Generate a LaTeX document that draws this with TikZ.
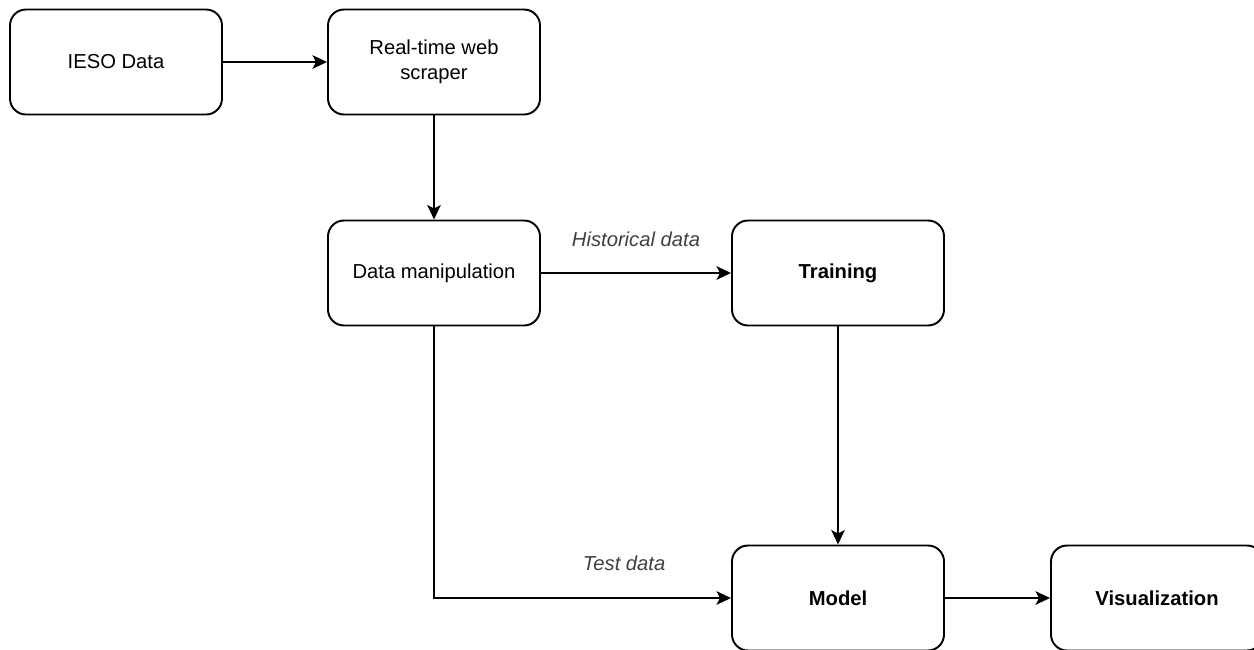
\documentclass[tikz,border=0pt]{standalone}
\usepackage{fontspec}
\setmainfont{Liberation Sans}
\usetikzlibrary{positioning,arrows.meta}

\begin{document}
\begin{tikzpicture}[
  font=\fontsize{11.5}{14}\selectfont,
  box/.style={draw, line width=1.1pt, rounded corners=0.32cm, minimum width=4.24cm, minimum height=2.1cm, inner sep=3pt, align=center},
  arr/.style={-{Stealth[length=2.9mm, width=2.7mm, inset=0.7mm]}, line width=1.1pt},
  lbl/.style={font=\fontsize{11.5}{14}\selectfont\itshape, text=black!75},
]
\useasboundingbox (0,0) rectangle (25.08,-12.98);
% top row
\node[box] (ieso) at (2.32,-1.24) {IESO Data};
\node[box] (scraper) at (8.68,-1.24) {Real-time web\\scraper};
% middle row
\node[box] (manip) at (8.68,-5.46) {Data manipulation};
\node[box, font=\fontsize{11.5}{14}\selectfont\bfseries] (train) at (16.76,-5.46) {Training};
% bottom row
\node[box, font=\fontsize{11.5}{14}\selectfont\bfseries] (model) at (16.76,-11.96) {Model};
\node[box, font=\fontsize{11.5}{14}\selectfont\bfseries] (vis) at (23.14,-11.96) {Visualization};
% arrows
\draw[arr] (ieso) -- (scraper);
\draw[arr] (scraper) -- (manip);
\draw[arr] (manip) -- node[lbl, midway, yshift=0.68cm] {Historical data} (train);
\draw[arr] (train) -- (model);
\draw[arr] (manip.south) |- node[lbl, pos=0.82, yshift=0.7cm] {Test data} (model.west);
\draw[arr] (model) -- (vis);
\end{tikzpicture}
\end{document}
